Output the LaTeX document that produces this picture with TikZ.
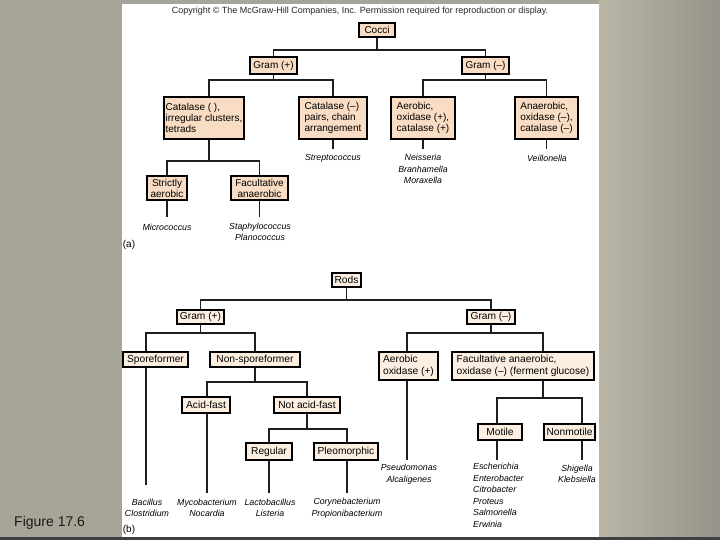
\documentclass[tikz,border=0pt]{standalone}
\usepackage{fontspec}
\setmainfont{Liberation Sans}
\definecolor{bgl}{HTML}{A7A597}
\definecolor{bgr1}{HTML}{BAB7A7}
\definecolor{bgr2}{HTML}{96948A}
\definecolor{cfill}{HTML}{F8DCC3}
\definecolor{rfill}{HTML}{FCEFE1}
\definecolor{ln}{HTML}{1E1E1E}
\begin{document}
\begin{tikzpicture}[x=1pt,y=-1pt,
  box/.style={draw=black, line width=1.1pt, inner xsep=1.5pt, inner ysep=1pt, align=left},
  cbox/.style={box, fill=cfill, font=\fontsize{10}{11}\selectfont},
  rbox/.style={box, fill=rfill, font=\fontsize{10.2}{11.5}\selectfont},
  conn/.style={draw=ln, line width=1.2pt},
  leaf/.style={font=\fontsize{8.8}{11.6}\selectfont\itshape, inner sep=0pt, align=center},
  part/.style={font=\fontsize{10}{12}\selectfont, inner sep=0pt}
]
\useasboundingbox (0,0) rectangle (720,540);
% background
\fill[bgl] (0,0) rectangle (122,540);
\shade[left color=bgr1, right color=bgr2] (599,0) rectangle (720,540);
\fill[bgl] (122,0) rectangle (599,4);
\fill[white] (122,4) rectangle (599,537);
\fill[black!75] (0,537) rectangle (720,540);
\node[font=\fontsize{14}{16}\selectfont, text=black!90, anchor=west, inner sep=0pt] (fig) at (14,523) {Figure 17.6};

\node[font=\fontsize{9}{10}\selectfont, text=black!85, inner sep=0pt] (copy) at (360,11) {Copyright \textcopyright\ The McGraw-Hill Companies, Inc. Permission required for reproduction or display.};

% ---------- (a) Cocci ----------
\node[cbox, minimum width=36pt, minimum height=14pt] (cocci) at (377,30) {Cocci};
\node[cbox, minimum width=47pt, minimum height=17pt] (gpa) at (273.5,65.5) {Gram (+)};
\node[cbox, minimum width=47pt, minimum height=17pt] (gna) at (485.5,65.5) {Gram (\textendash)};
\node[cbox, minimum width=80pt, minimum height=42pt] (catp) at (204,118) {Catalase ( ),\\irregular clusters,\\tetrads};
\node[cbox, minimum width=68pt, minimum height=42pt] (catn) at (333,118) {Catalase (\textendash)\\pairs, chain\\arrangement};
\node[cbox, minimum width=64pt, minimum height=42pt] (aer) at (423,118) {Aerobic,\\oxidase (+),\\catalase (+)};
\node[cbox, minimum width=63pt, minimum height=42pt] (anaer) at (546.5,118) {Anaerobic,\\oxidase (\textendash),\\catalase (\textendash)};
\node[cbox, align=center, minimum width=40pt, minimum height=24pt] (strict) at (167,188) {Strictly\\aerobic};
\node[cbox, align=center, minimum width=57pt, minimum height=24pt] (facul) at (259.5,188) {Facultative\\anaerobic};

\coordinate (ca) at (377,50);
\coordinate (cb) at (273.5,80);
\coordinate (cc) at (485.5,80);
\coordinate (cd) at (209,161);
\draw[conn] (cocci.south) -- (ca);
\draw[conn] (gpa.north) |- (ca) -| (gna.north);
\draw[conn] (gpa.south) -- (cb);
\draw[conn] ([xshift=5pt]catp.north) |- (cb) -| (catn.north);
\draw[conn] (gna.south) -- (cc);
\draw[conn] (aer.north) |- (cc) -| (anaer.north);
\draw[conn] ([xshift=5pt]catp.south) -- (cd);
\draw[conn] (strict.north) |- (cd) -| (facul.north);

\node[leaf] (strep) at (333,158) {Streptococcus};
\node[leaf] (neis) at (423,169) {Neisseria\\Branhamella\\Moraxella};
\node[leaf] (veil) at (547,158) {Veillonella};
\node[leaf] (micro) at (167,227) {Micrococcus};
\node[leaf] (staph) at (260,232) {Staphylococcus\\Planococcus};
\coordinate (e1) at (333,149);
\coordinate (e2) at (423,149);
\coordinate (e3) at (546.5,149);
\coordinate (e4) at (167,217);
\coordinate (e5) at (259.5,217);
\draw[conn] (catn.south) -- (e1);
\draw[conn] (aer.south) -- (e2);
\draw[conn] (anaer.south) -- (e3);
\draw[conn] (strict.south) -- (e4);
\draw[conn] (facul.south) -- (e5);
\node[part] (pa) at (129,245) {(a)};

% ---------- (b) Rods ----------
\node[rbox, minimum width=29pt, minimum height=14pt] (rods) at (346.5,280) {Rods};
\node[rbox, minimum width=47pt, minimum height=14pt] (gpb) at (200.5,317) {Gram (+)};
\node[rbox, minimum width=48pt, minimum height=14pt] (gnb) at (491,317) {Gram (\textendash)};
\node[rbox, minimum width=65pt, minimum height=15pt] (spore) at (155.5,359.5) {Sporeformer};
\node[rbox, minimum width=90pt, minimum height=15pt] (nonsp) at (255,359.5) {Non-sporeformer};
\node[rbox, minimum width=59pt, minimum height=28pt] (aerb) at (408.5,366) {Aerobic\\oxidase (+)};
\node[rbox, minimum width=142pt, minimum height=28pt] (facb) at (523,366) {Facultative anaerobic,\\oxidase (\textendash) (ferment glucose)};
\node[rbox, minimum width=48pt, minimum height=16pt] (acid) at (206,405) {Acid-fast};
\node[rbox, minimum width=66pt, minimum height=16pt] (notacid) at (307,405) {Not acid-fast};
\node[rbox, minimum width=46pt, minimum height=17pt] (reg) at (269,451.5) {Regular};
\node[rbox, minimum width=64pt, minimum height=17pt] (pleo) at (346,451.5) {Pleomorphic};
\node[rbox, minimum width=44pt, minimum height=16pt] (motile) at (500,432) {Motile};
\node[rbox, minimum width=51pt, minimum height=16pt] (nonmot) at (569.5,432) {Nonmotile};

\coordinate (ra) at (346.5,300);
\coordinate (rb) at (200.5,333);
\coordinate (rc) at (491,333);
\coordinate (rd) at (255,382);
\coordinate (re) at (307,429);
\coordinate (rf) at (543,398);
\draw[conn] (rods.south) -- (ra);
\draw[conn] (gpb.north) |- (ra) -| (gnb.north);
\draw[conn] (gpb.south) -- (rb);
\draw[conn] ([xshift=-9.5pt]spore.north) |- (rb) -| (nonsp.north);
\draw[conn] (gnb.south) -- (rc);
\draw[conn] ([xshift=-1.5pt]aerb.north) |- (rc) -| ([xshift=20pt]facb.north);
\draw[conn] (nonsp.south) -- (rd);
\draw[conn] ([xshift=1pt]acid.north) |- (rd) -| (notacid.north);
\draw[conn] (notacid.south) -- (re);
\draw[conn] (reg.north) |- (re) -| ([xshift=1pt]pleo.north);
\draw[conn] ([xshift=20pt]facb.south) -- (rf);
\draw[conn] ([xshift=-3pt]motile.north) |- (rf) -| ([xshift=12.5pt]nonmot.north);

\node[leaf] (bac) at (147,508) {Bacillus\\Clostridium};
\node[leaf] (myco) at (207,508) {Mycobacterium\\Nocardia};
\node[leaf] (lacto) at (270,508) {Lactobacillus\\Listeria};
\node[leaf] (cory) at (347,508) {Corynebacterium\\Propionibacterium};
\node[leaf] (pseudo) at (409,474) {Pseudomonas\\Alcaligenes};
\node[leaf, align=left, anchor=north west] (escher) at (473,463) {Escherichia\\Enterobacter\\Citrobacter\\Proteus\\Salmonella\\Erwinia};
\node[leaf] (shig) at (577,474) {Shigella\\Klebsiella};
\coordinate (f1) at (146,485);
\coordinate (f2) at (207,493);
\coordinate (f3) at (269,493);
\coordinate (f4) at (347,493);
\coordinate (f5) at (407,460);
\coordinate (f6) at (497,460);
\coordinate (f7) at (582,460);
\draw[conn] (spore.south -| f1) -- (f1);
\draw[conn] (acid.south -| f2) -- (f2);
\draw[conn] (reg.south) -- (f3);
\draw[conn] (pleo.south -| f4) -- (f4);
\draw[conn] (aerb.south -| f5) -- (f5);
\draw[conn] (motile.south -| f6) -- (f6);
\draw[conn] (nonmot.south -| f7) -- (f7);
\node[part] (pb) at (129,530) {(b)};
\end{tikzpicture}
\end{document}
